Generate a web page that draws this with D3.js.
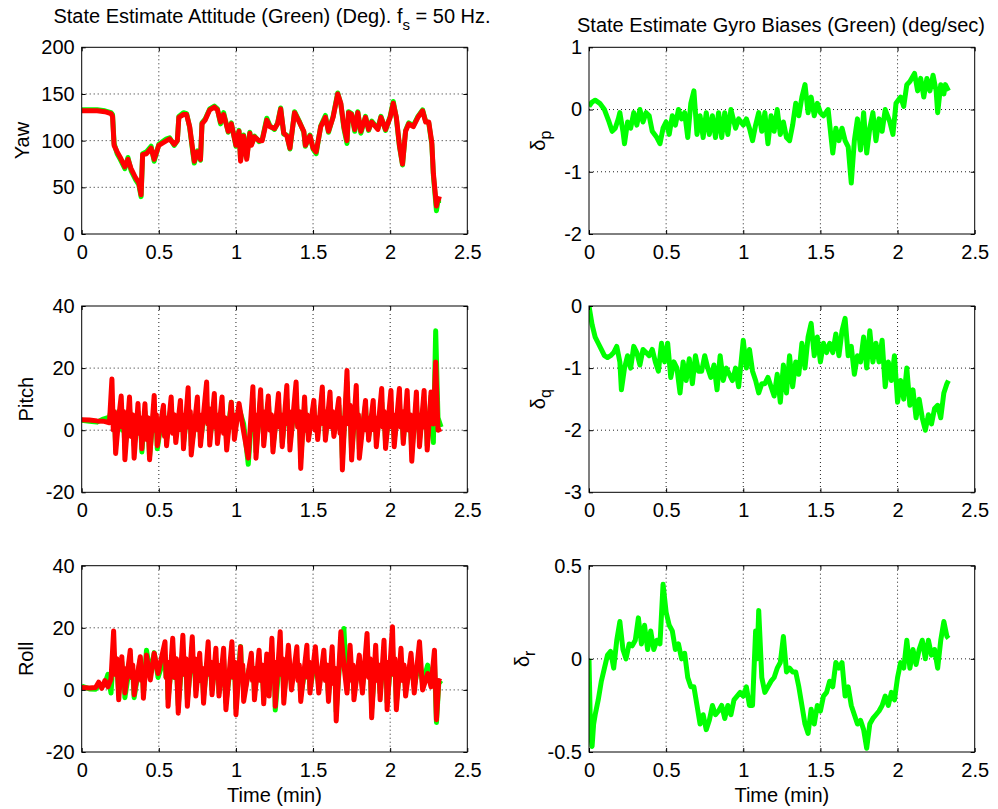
<!DOCTYPE html>
<html>
<head>
<meta charset="utf-8">
<script src="https://cdn.jsdelivr.net/npm/d3@7"></script>
<style>
body { margin: 0; background: #fff; }
svg text { font-family: "Liberation Sans", Arial, Helvetica, sans-serif; font-size: 20px; fill: #000; }
</style>
</head>
<body>
<svg id="chart" width="998" height="809"></svg>
<script>
// tick values / labels
const timeTicks = [0, 0.5, 1, 1.5, 2, 2.5];
const timeTickLabels = ["0", "0.5", "1", "1.5", "2", "2.5"];
const yawTicks = [0, 50, 100, 150, 200];
const angleTicks = [-20, 0, 20, 40];
const dpTicks = [-2, -1, 0, 1];
const dqTicks = [-3, -2, -1, 0];
const drTicks = [-0.5, 0, 0.5];

// attitude: [time (min), value (deg)]  red = reference, green = state estimate
const yawRef = [[0,132],[0.1,132],[0.15,131],[0.19,129],[0.2,126],[0.21,95],[0.23,88],[0.25,82],[0.28,72],[0.3,80],[0.32,70],[0.35,60],[0.37,55],[0.385,42],[0.395,85],[0.42,86],[0.45,92],[0.47,80],[0.5,95],[0.55,100],[0.57,102],[0.6,96],[0.62,100],[0.63,125],[0.66,128],[0.68,128],[0.7,115],[0.72,90],[0.73,78],[0.75,88],[0.77,80],[0.78,118],[0.8,122],[0.83,133],[0.86,136],[0.88,133],[0.9,120],[0.92,128],[0.95,110],[0.97,118],[1.0,95],[1.02,110],[1.03,78],[1.05,105],[1.07,80],[1.09,108],[1.1,95],[1.12,104],[1.15,100],[1.17,100],[1.2,122],[1.22,115],[1.25,113],[1.27,118],[1.29,134],[1.31,108],[1.33,105],[1.35,92],[1.38,130],[1.41,120],[1.44,110],[1.45,95],[1.48,105],[1.5,92],[1.52,88],[1.55,115],[1.58,125],[1.6,110],[1.63,125],[1.66,150],[1.68,140],[1.7,115],[1.72,100],[1.73,130],[1.75,128],[1.77,112],[1.79,130],[1.81,110],[1.84,125],[1.86,112],[1.88,120],[1.92,112],[1.94,125],[1.97,112],[2.0,125],[2.02,140],[2.04,125],[2.06,95],[2.08,75],[2.1,110],[2.12,118],[2.15,115],[2.18,125],[2.21,132],[2.23,120],[2.25,120],[2.27,98],[2.28,65],[2.3,30],[2.31,38],[2.33,37]];
const yawEst = [[0,133],[0.1,133],[0.15,132],[0.19,130],[0.2,128],[0.21,97],[0.23,86],[0.25,80],[0.28,70],[0.3,82],[0.32,68],[0.35,58],[0.37,53],[0.385,40],[0.395,86],[0.42,88],[0.45,94],[0.47,78],[0.5,96],[0.55,102],[0.57,103],[0.6,95],[0.62,100],[0.63,126],[0.66,130],[0.68,129],[0.7,114],[0.72,88],[0.73,76],[0.75,89],[0.77,79],[0.78,119],[0.8,123],[0.83,134],[0.86,137],[0.88,134],[0.9,118],[0.92,130],[0.95,109],[0.97,119],[1.0,94],[1.02,111],[1.03,80],[1.05,106],[1.07,82],[1.09,109],[1.1,96],[1.12,105],[1.15,99],[1.17,101],[1.2,124],[1.22,116],[1.25,112],[1.27,119],[1.29,135],[1.31,107],[1.33,106],[1.35,91],[1.38,131],[1.41,121],[1.44,109],[1.45,94],[1.48,106],[1.5,91],[1.52,86],[1.55,116],[1.58,127],[1.6,109],[1.63,126],[1.66,151],[1.68,139],[1.7,113],[1.72,97],[1.73,131],[1.75,129],[1.77,110],[1.79,131],[1.81,108],[1.84,126],[1.86,111],[1.88,121],[1.92,113],[1.94,126],[1.97,111],[2.0,126],[2.02,142],[2.04,124],[2.06,94],[2.08,74],[2.1,111],[2.12,119],[2.15,116],[2.18,126],[2.21,133],[2.23,121],[2.25,119],[2.27,96],[2.28,63],[2.3,25],[2.31,36],[2.33,36]];

// [time, red, green]
const pitch = [[0,3.4,3.2],[0.05,3.3,2.9],[0.1,3.0,2.6],[0.14,2.9,3.6],[0.18,2.4,4.2],[0.196,16.5,7.5],[0.205,0,2],[0.212,6,5],[0.22,-7.5,-5],[0.24,4,6],[0.256,11,5],[0.264,1,0],[0.272,6,4],[0.28,-9.5,-6],[0.31,10.7,7],[0.32,-2,0],[0.33,5,4],[0.34,-9,-5],[0.365,8.6,6],[0.373,-1,1],[0.381,4,3],[0.39,-6,-7],[0.41,8.5,6],[0.42,-3,-1],[0.43,4,3],[0.44,-9.5,-8.5],[0.47,11.2,8],[0.477,0,1],[0.484,5,4],[0.49,-5,-6],[0.53,8,7],[0.537,-2,0],[0.544,4,3],[0.55,-5,-3],[0.58,10.7,8],[0.59,-1,1],[0.6,5,4],[0.61,-4,-2],[0.64,9.6,6],[0.647,0,1],[0.654,5,4],[0.66,-6,-4],[0.69,13.7,8],[0.697,1,2],[0.704,6,5],[0.71,-8,-5],[0.75,10.7,6],[0.757,0,1],[0.764,5,4],[0.77,-5,-3],[0.81,15.5,9],[0.817,2,3],[0.824,7,5],[0.83,-4.8,-3],[0.86,11.8,8],[0.867,1,2],[0.874,5,4],[0.88,-4.3,-2],[0.91,10.7,7],[0.92,-1,0],[0.93,4,3],[0.94,-6.4,-4],[0.97,9,9],[0.977,1,2],[0.984,5,4],[0.99,-3,-1],[1.02,8.6,7],[1.05,-0.5,2],[1.08,-9,-11],[1.11,14,10],[1.117,0,1],[1.124,5,4],[1.13,-9,-7],[1.16,13,10],[1.167,2,3],[1.174,6,5],[1.18,-5,-3],[1.21,11,9],[1.22,0,1],[1.23,5,4],[1.24,-7,-5],[1.276,11.8,9],[1.284,1,2],[1.292,5,4],[1.3,-5.3,-4],[1.33,14.4,10],[1.337,2,3],[1.344,6,5],[1.35,-6.4,-4],[1.39,15.5,11],[1.4,1,2],[1.41,6,5],[1.42,-12.3,-9],[1.445,10.7,8],[1.453,0,1],[1.461,5,4],[1.47,-3.2,-2],[1.505,9.6,8],[1.513,0,1],[1.521,4,3],[1.53,-3,-1],[1.56,13.9,9],[1.567,2,3],[1.574,6,5],[1.58,-3.2,-2],[1.61,12.3,9],[1.618,1,2],[1.626,6,5],[1.635,-2,-1],[1.667,10.2,8],[1.675,-1,0],[1.682,4,3],[1.69,-12.8,-9],[1.72,19.2,15.5],[1.73,2,3],[1.74,8,6],[1.75,-9.6,-7],[1.78,14.4,10],[1.787,1,2],[1.794,5,4],[1.8,-9,-6],[1.84,9.6,8],[1.847,0,1],[1.854,4,3],[1.86,-3.2,-2],[1.89,9.6,7],[1.897,0,1],[1.904,4,3],[1.91,-5.3,-3],[1.945,13.4,9],[1.953,1,2],[1.961,6,5],[1.97,-5.9,-4],[2.005,12.8,9],[2.012,1,2],[2.019,5,4],[2.026,-5.3,-3],[2.06,13.4,9],[2.068,1,2],[2.076,6,5],[2.085,-4.3,-3],[2.11,12.8,9],[2.12,0,1],[2.13,5,4],[2.14,-10,-7],[2.17,12.3,9],[2.177,1,2],[2.184,5,4],[2.19,-5.3,-3],[2.22,12.8,9],[2.227,1,2],[2.234,5,4],[2.24,-6.4,-5],[2.265,12.3,11],[2.28,2,-4],[2.295,22,32],[2.31,0,4],[2.33,0.5,1]];
const roll = [[0,0.8,1.2],[0.05,0.6,0.3],[0.09,0.8,0.2],[0.11,2.5,1.5],[0.13,0.5,1],[0.15,3,2],[0.17,1,5],[0.19,3.5,-1],[0.207,19,12],[0.217,5,6],[0.228,10,8],[0.24,-3.2,-1],[0.26,10.7,9],[0.268,3,3],[0.274,7,5],[0.28,-1,-2.5],[0.315,12.8,9],[0.323,4,4],[0.331,8,6],[0.34,-1.6,-2.5],[0.38,10.7,10],[0.387,3,4],[0.394,7,6],[0.4,-2.7,-1],[0.42,11.2,12.8],[0.445,3.2,5],[0.47,11.8,12],[0.495,5.3,4],[0.54,15.5,11],[0.547,4,4],[0.554,9,7],[0.56,-5.3,-3],[0.59,16.6,12],[0.602,4,4],[0.614,10,8],[0.626,-7.5,-5],[0.656,17.6,12],[0.666,5,5],[0.676,10,8],[0.685,-5.3,-3],[0.717,17.1,12],[0.725,6,6],[0.733,10,8],[0.74,-2,0],[0.765,11.8,9],[0.773,3,4],[0.781,7,6],[0.79,-4.3,-2],[0.82,15.5,11],[0.828,5,5],[0.836,9,7],[0.845,-1.6,0],[0.87,13.4,10],[0.877,4,4],[0.884,8,6],[0.89,-2,-1],[0.92,13.4,10],[0.935,-6.4,-4],[0.974,15.5,11],[0.983,4,4],[0.992,9,7],[1.0,-8,-6],[1.03,13.9,14],[1.037,4,5],[1.044,8,7],[1.05,-3.7,-2],[1.1,11.8,10],[1.107,3,4],[1.114,7,6],[1.12,-3.2,-1],[1.15,12.8,9],[1.16,3,4],[1.17,8,6],[1.18,-4.5,-2],[1.2,11.6,9],[1.215,-2,0],[1.233,16.6,12],[1.242,4,4],[1.249,9,7],[1.255,-5.3,-6.5],[1.287,18.7,13],[1.295,5,5],[1.303,10,8],[1.31,-4.3,-2],[1.34,14.4,11],[1.36,0,2],[1.395,13.9,10],[1.403,3,4],[1.411,8,6],[1.42,-3.7,-2],[1.46,14.4,10],[1.467,4,4],[1.474,9,7],[1.48,-1,0],[1.515,13.9,10],[1.537,-1,1],[1.57,12.8,9],[1.58,3,4],[1.59,8,6],[1.6,-3.7,-2],[1.624,13.9,10],[1.633,2,3],[1.642,7,5],[1.65,-10,-7],[1.68,18.7,14],[1.7,8,19.8],[1.72,-1,0],[1.74,14.4,10],[1.753,3,4],[1.759,8,6],[1.765,-3.2,-1],[1.8,11.2,9],[1.82,-1,1],[1.85,18.2,12],[1.86,4,5],[1.87,10,8],[1.88,-9,-6],[1.906,14.4,10],[1.916,3,4],[1.926,8,6],[1.935,-3.2,-1],[1.96,16,11],[1.967,4,5],[1.974,9,7],[1.98,-6.4,-4],[2.015,20.3,14],[2.023,5,5],[2.031,10,8],[2.04,-6.4,-4],[2.07,13.4,10],[2.08,3,4],[2.09,8,6],[2.1,-2,0],[2.135,11.8,9],[2.156,-1,1],[2.19,15.5,10],[2.21,0,2],[2.243,5.3,8],[2.265,1,3],[2.287,12.8,9],[2.3,-9.6,-10.5],[2.315,3,2],[2.33,2.7,3]];

// gyro biases: [time (min), value (deg/sec)]
const dpEst = [[0,0.05],[0.02,0.12],[0.04,0.15],[0.07,0.1],[0.1,0],[0.13,-0.2],[0.15,-0.35],[0.17,-0.3],[0.19,-0.15],[0.2,-0.05],[0.22,-0.35],[0.23,-0.55],[0.25,-0.2],[0.27,-0.3],[0.29,-0.05],[0.31,-0.25],[0.33,0],[0.35,-0.2],[0.37,-0.05],[0.39,-0.1],[0.41,-0.35],[0.44,-0.45],[0.46,-0.55],[0.48,-0.3],[0.5,-0.2],[0.52,-0.4],[0.54,-0.1],[0.56,-0.25],[0.58,0],[0.6,-0.15],[0.62,-0.05],[0.64,-0.45],[0.66,0.1],[0.68,0.3],[0.7,-0.4],[0.72,-0.1],[0.74,-0.45],[0.76,-0.05],[0.78,-0.4],[0.8,-0.1],[0.82,-0.45],[0.84,-0.05],[0.86,-0.45],[0.88,-0.05],[0.9,-0.4],[0.92,0],[0.95,-0.3],[0.97,-0.15],[1.0,-0.25],[1.02,-0.15],[1.04,-0.3],[1.06,-0.5],[1.08,-0.25],[1.1,-0.05],[1.12,-0.35],[1.14,-0.05],[1.16,-0.55],[1.18,-0.1],[1.2,-0.35],[1.22,0],[1.24,-0.4],[1.26,-0.2],[1.28,-0.45],[1.3,-0.5],[1.32,-0.25],[1.34,0.1],[1.36,-0.1],[1.38,0.2],[1.4,0.4],[1.42,-0.05],[1.44,0.2],[1.46,-0.1],[1.48,0.1],[1.5,-0.05],[1.52,-0.1],[1.55,0],[1.58,-0.7],[1.6,-0.3],[1.62,-0.5],[1.64,-0.3],[1.66,-0.5],[1.68,-0.6],[1.7,-1.18],[1.72,-0.5],[1.74,-0.15],[1.76,-0.65],[1.78,-0.05],[1.8,-0.7],[1.82,-0.3],[1.84,-0.05],[1.86,-0.5],[1.88,-0.15],[1.9,-0.35],[1.92,0],[1.95,-0.2],[1.97,-0.4],[1.99,0.1],[2.02,0.2],[2.04,0.05],[2.06,0.4],[2.08,0.45],[2.11,0.58],[2.13,0.3],[2.15,0.5],[2.17,0.2],[2.19,0.5],[2.21,0.3],[2.23,0.55],[2.25,0.3],[2.26,-0.05],[2.28,0.4],[2.3,0.25],[2.31,0.4],[2.33,0.3]];
const dqEst = [[0,0],[0.02,-0.3],[0.04,-0.5],[0.06,-0.6],[0.08,-0.7],[0.1,-0.8],[0.12,-0.83],[0.14,-0.8],[0.16,-0.75],[0.18,-0.65],[0.2,-0.9],[0.21,-1.35],[0.23,-1.0],[0.25,-0.8],[0.27,-1.0],[0.29,-0.65],[0.31,-0.75],[0.33,-0.95],[0.35,-0.7],[0.37,-0.75],[0.39,-0.8],[0.41,-0.7],[0.43,-0.9],[0.45,-1.05],[0.47,-0.6],[0.49,-0.9],[0.51,-0.6],[0.53,-1.15],[0.55,-0.9],[0.57,-1.0],[0.59,-1.4],[0.61,-0.9],[0.63,-1.2],[0.65,-0.85],[0.67,-1.25],[0.69,-0.8],[0.71,-1.05],[0.73,-1.05],[0.75,-0.8],[0.77,-1.0],[0.79,-1.15],[0.81,-0.95],[0.83,-1.35],[0.85,-0.8],[0.87,-1.2],[0.89,-1.0],[0.91,-1.1],[0.93,-1.2],[0.95,-1.0],[0.97,-1.3],[0.99,-0.8],[1.0,-0.55],[1.02,-1.0],[1.04,-0.7],[1.06,-1.05],[1.08,-1.2],[1.1,-1.4],[1.12,-1.25],[1.14,-1.25],[1.16,-1.15],[1.18,-1.3],[1.2,-1.45],[1.22,-1.1],[1.24,-1.55],[1.26,-0.95],[1.28,-1.4],[1.3,-0.8],[1.32,-1.3],[1.34,-0.9],[1.36,-1.1],[1.38,-0.6],[1.4,-1.0],[1.42,-0.5],[1.44,-0.28],[1.46,-0.8],[1.48,-0.5],[1.5,-0.9],[1.52,-0.6],[1.54,-0.75],[1.56,-0.6],[1.58,-0.75],[1.6,-0.45],[1.62,-0.8],[1.64,-0.4],[1.66,-0.2],[1.68,-0.8],[1.7,-0.65],[1.72,-1.1],[1.74,-0.8],[1.76,-0.9],[1.78,-0.5],[1.8,-1.0],[1.82,-0.4],[1.84,-0.9],[1.86,-0.6],[1.88,-0.9],[1.9,-0.55],[1.92,-1.3],[1.94,-0.9],[1.96,-1.2],[1.98,-0.8],[2.0,-1.55],[2.02,-1.2],[2.04,-1.5],[2.06,-1.0],[2.08,-1.6],[2.1,-1.35],[2.12,-1.8],[2.14,-1.5],[2.16,-1.8],[2.18,-2.0],[2.2,-1.75],[2.22,-1.9],[2.24,-1.65],[2.26,-1.6],[2.28,-1.8],[2.3,-1.4],[2.32,-1.25],[2.33,-1.2]];
const drEst = [[0,0],[0.01,-0.4],[0.02,-0.47],[0.03,-0.35],[0.04,-0.3],[0.06,-0.22],[0.08,-0.12],[0.1,-0.05],[0.12,0.02],[0.14,0.04],[0.16,-0.05],[0.18,0.1],[0.2,0.2],[0.22,0.05],[0.24,0],[0.26,0.08],[0.28,0.07],[0.3,0.1],[0.32,0.22],[0.34,0.08],[0.36,0.18],[0.38,0.05],[0.4,0.15],[0.42,0.05],[0.44,0.1],[0.46,0.08],[0.48,0.4],[0.5,0.25],[0.52,0.18],[0.54,0.15],[0.56,0.05],[0.58,0.08],[0.6,0],[0.62,0.03],[0.64,-0.1],[0.66,-0.15],[0.68,-0.15],[0.7,-0.25],[0.72,-0.35],[0.74,-0.3],[0.76,-0.38],[0.78,-0.33],[0.8,-0.25],[0.82,-0.3],[0.84,-0.28],[0.86,-0.25],[0.88,-0.32],[0.9,-0.25],[0.92,-0.3],[0.94,-0.22],[0.96,-0.2],[0.98,-0.18],[1.0,-0.2],[1.02,-0.15],[1.04,-0.25],[1.06,-0.25],[1.08,0.15],[1.09,0],[1.1,0.26],[1.12,-0.1],[1.14,-0.18],[1.16,-0.15],[1.18,-0.12],[1.2,-0.1],[1.22,-0.05],[1.24,-0.02],[1.26,0.12],[1.28,-0.07],[1.3,-0.05],[1.32,-0.07],[1.34,-0.07],[1.36,-0.15],[1.38,-0.25],[1.4,-0.35],[1.42,-0.4],[1.44,-0.27],[1.46,-0.35],[1.48,-0.25],[1.5,-0.28],[1.52,-0.2],[1.54,-0.18],[1.56,-0.12],[1.58,-0.15],[1.6,-0.02],[1.62,-0.05],[1.64,-0.02],[1.66,-0.2],[1.68,-0.15],[1.7,-0.25],[1.72,-0.3],[1.74,-0.35],[1.76,-0.33],[1.78,-0.38],[1.8,-0.48],[1.82,-0.35],[1.84,-0.32],[1.86,-0.3],[1.88,-0.28],[1.9,-0.25],[1.92,-0.2],[1.94,-0.25],[1.96,-0.18],[1.98,-0.22],[2.0,-0.1],[2.02,-0.02],[2.04,-0.05],[2.06,0.1],[2.08,-0.05],[2.1,0.05],[2.12,-0.03],[2.14,0.05],[2.16,0.1],[2.18,0],[2.2,0.1],[2.22,0.02],[2.24,0.05],[2.26,-0.05],[2.28,0.1],[2.3,0.2],[2.32,0.12],[2.33,0.11]];

var svg = d3.select("#chart");
svg.append("rect").attr("width", 998).attr("height", 809).attr("fill", "white");

const GREEN = "#00ff00", RED = "#ff0000";
const colX = [[81.7, 467.3], [589, 974.7]];
const rowY = [[47.3, 234], [306, 492.3], [565.7, 752]];

// pull [time, value] pairs out of a [time, red, green] table
function col(rows, j) { return rows.map(r => [r[0], r[j]]); }

var panels = [
    {col: 0, row: 0, domain: [0, 200], ticks: yawTicks, label: "Yaw", labelX: 29,
     series: [[yawEst, GREEN], [yawRef, RED]]},
    {col: 0, row: 1, domain: [-20, 40], ticks: angleTicks, label: "Pitch", labelX: 33,
     series: [[col(pitch, 2), GREEN], [col(pitch, 1), RED]]},
    {col: 0, row: 2, domain: [-20, 40], ticks: angleTicks, label: "Roll", labelX: 33,
     series: [[col(roll, 2), GREEN], [col(roll, 1), RED]]},
    {col: 1, row: 0, domain: [-2, 1], ticks: dpTicks, label: "δ", sub: "p", labelX: 545,
     series: [[dpEst, GREEN]]},
    {col: 1, row: 1, domain: [-3, 0], ticks: dqTicks, label: "δ", sub: "q", labelX: 545,
     series: [[dqEst, GREEN]]},
    {col: 1, row: 2, domain: [-0.5, 0.5], ticks: drTicks, label: "δ", sub: "r", labelX: 529,
     series: [[drEst, GREEN]]}
];

panels.forEach((p, k) => {
    var x0 = colX[p.col][0], w = colX[p.col][1] - x0;
    var y0 = rowY[p.row][0], h = rowY[p.row][1] - y0;

    var x = d3.scaleLinear().domain([0, 2.5]).range([0, w]);
    var y = d3.scaleLinear().domain(p.domain).range([h, 0]);

    var g = svg.append("g").attr("transform", `translate(${x0},${y0})`);

    // dotted grid
    g.selectAll(".vg").data(timeTicks.slice(1, -1)).enter().append("line")
        .attr("x1", d => x(d)).attr("x2", d => x(d)).attr("y1", 0).attr("y2", h)
        .attr("stroke", "#222").attr("stroke-dasharray", "1,3");
    g.selectAll(".hg").data(p.ticks.slice(1, -1)).enter().append("line")
        .attr("y1", d => y(d)).attr("y2", d => y(d)).attr("x1", 0).attr("x2", w)
        .attr("stroke", "#222").attr("stroke-dasharray", "1,3");

    // data lines
    var clipId = "clip" + k;
    g.append("clipPath").attr("id", clipId).append("rect").attr("width", w).attr("height", h);
    var line = d3.line().x(d => x(d[0])).y(d => y(d[1]));
    p.series.forEach(s => {
        g.append("path").datum(s[0])
            .attr("clip-path", `url(#${clipId})`)
            .attr("d", line)
            .attr("fill", "none")
            .attr("stroke", s[1])
            .attr("stroke-width", 5)
            .attr("stroke-linejoin", "round");
    });

    // axes, ticks inward on all four sides
    g.append("g").attr("transform", `translate(0,${h})`)
        .call(d3.axisBottom(x).tickValues(timeTicks).tickFormat((d, i) => timeTickLabels[i]).tickSize(-4).tickPadding(11))
        .call(a => a.select(".domain").remove());
    g.append("g")
        .call(d3.axisTop(x).tickValues(timeTicks).tickFormat("").tickSize(-4))
        .call(a => a.select(".domain").remove());
    g.append("g")
        .call(d3.axisLeft(y).tickValues(p.ticks).tickFormat(d => String(d)).tickSize(-4).tickPadding(7))
        .call(a => a.select(".domain").remove());
    g.append("g").attr("transform", `translate(${w},0)`)
        .call(d3.axisRight(y).tickValues(p.ticks).tickFormat("").tickSize(-4))
        .call(a => a.select(".domain").remove());

    g.append("rect").attr("width", w).attr("height", h)
        .attr("fill", "none").attr("stroke", "#000").attr("stroke-width", 1);

    // y label
    var lab = svg.append("text")
        .attr("transform", `translate(${p.labelX},${y0 + h / 2}) rotate(-90)`)
        .attr("text-anchor", "middle")
        .text(p.label);
    if (p.sub) {
        lab.append("tspan").attr("dy", 6).style("font-size", "16px").text(p.sub);
    }

    // x label on bottom row
    if (p.row === 2) {
        svg.append("text")
            .attr("x", x0 + w / 2).attr("y", 802)
            .attr("text-anchor", "middle")
            .text("Time (min)");
    }
});

// titles
var t1 = svg.append("text").attr("x", 272).attr("y", 23).attr("text-anchor", "middle")
    .text("State Estimate Attitude (Green) (Deg). f");
t1.append("tspan").attr("dy", 7).style("font-size", "15px").text("s");
t1.append("tspan").attr("dy", -7).text(" = 50 Hz.");

svg.append("text").attr("x", 781).attr("y", 32).attr("text-anchor", "middle")
    .text("State Estimate Gyro Biases (Green) (deg/sec)");
</script>
</body>
</html>
